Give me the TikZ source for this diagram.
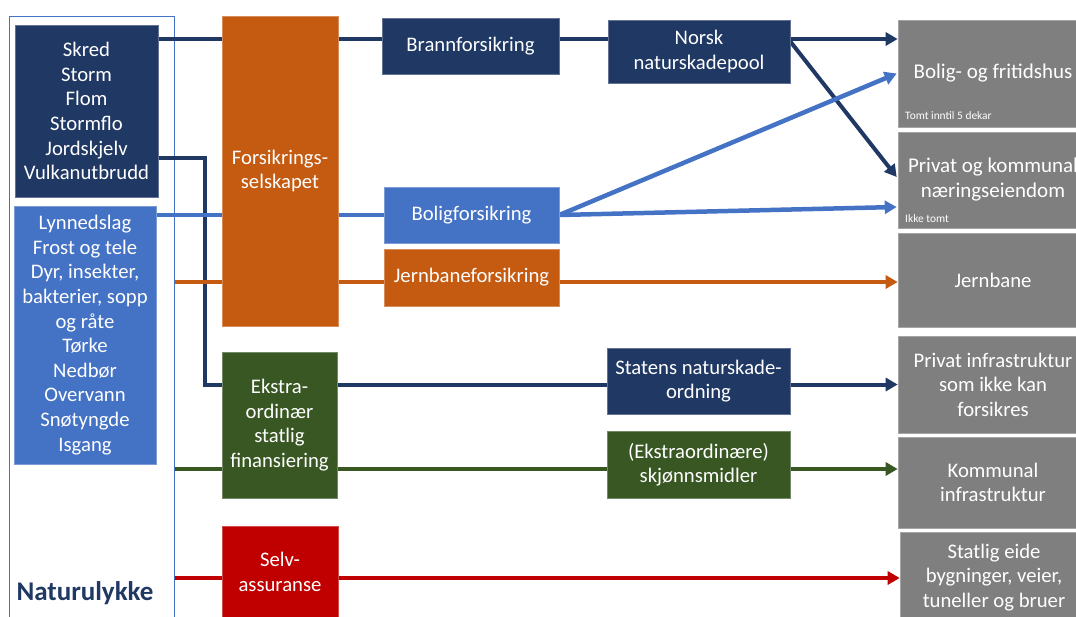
\documentclass[tikz,border=0pt]{standalone}
\usepackage{fontspec}
\setmainfont{Carlito}
\usetikzlibrary{arrows.meta,backgrounds,calc}
\definecolor{navy}{HTML}{203864}
\definecolor{lblue}{HTML}{4472C4}
\definecolor{rust}{HTML}{C55A11}
\definecolor{moss}{HTML}{385723}
\definecolor{crimson}{HTML}{C00000}
\definecolor{slate}{HTML}{7F7F7F}
\begin{document}
\begin{tikzpicture}[x=1pt,y=-1pt,
  box/.style={rectangle, inner sep=0pt, align=center, text=white,
    font=\fontsize{20.7}{24.6}\selectfont, fill=#1, draw=#1!70!white, line width=0.6pt},
  target/.style={box=slate, font=\fontsize{20.7}{24.6}\selectfont},
  smalltxt/.style={inner sep=0pt, text=white, font=\fontsize{11.4}{13}\selectfont, anchor=west},
  flow/.style={line width=4pt, draw=#1, -{Triangle[length=12pt,width=13pt]}},
  link/.style={line width=4pt, draw=#1},
]
\useasboundingbox (0,0) rectangle (1076,616);

% hazard groups
\node[box=navy, minimum width=143pt, minimum height=172pt] (haz) at (86.5,111)
  {Skred\\Storm\\Flom\\Stormflo\\Jordskjelv\\Vulkanutbrudd};
\node[box=lblue, minimum width=142pt, minimum height=258pt] (lyn) at (85,335)
  {Lynnedslag\\Frost og tele\\Dyr, insekter,\\bakterier, sopp\\og råte\\Tørke\\Nedbør\\Overvann\\Snøtyngde\\Isgang};
\node[inner sep=0pt, text=navy, font=\bfseries\fontsize{27}{32}\selectfont] (title) at (85,593) {Naturulykke};

% funding sources
\node[box=rust, minimum width=116pt, minimum height=310pt] (fors) at (280,171) {Forsikrings-\\selskapet};
\node[box=moss, minimum width=115pt, minimum height=146pt] (ekstra) at (279.5,425) {Ekstra-\\ordinær\\statlig\\finansiering};
\node[box=crimson, minimum width=116pt, minimum height=92pt] (selv) at (280,572) {Selv-\\assuranse};

% schemes
\node[box=navy, minimum width=177pt, minimum height=56pt] (brann) at (470.5,46) {Brannforsikring};
\node[box=lblue, minimum width=175pt, minimum height=56pt] (boligf) at (471.5,215) {Boligforsikring};
\node[box=rust, minimum width=175pt, minimum height=57pt] (jernf) at (471.5,277.5) {Jernbaneforsikring};
\node[box=navy, minimum width=182pt, minimum height=63pt] (norsk) at (699,51.5) {Norsk\\naturskadepool};
\node[box=navy, minimum width=183pt, minimum height=66pt] (statens) at (698.5,381) {Statens naturskade-\\ordning};
\node[box=moss, minimum width=183pt, minimum height=67pt] (skjonn) at (698.5,464.5) {(Ekstraordinære)\\skjønnsmidler};

% assets
\node[target, font=\fontsize{21}{25}\selectfont, minimum width=190pt, minimum height=107pt] (bolighus) at (993,73.5) {Bolig- og fritidshus};
\node[target, font=\fontsize{21}{25}\selectfont, minimum width=190pt, minimum height=96pt] (privkom) at (993,180) {Privat og kommunal\\næringseiendom};
\node[target, minimum width=190pt, minimum height=94pt] (jernbane) at (993,280) {Jernbane};
\node[target, minimum width=190pt, minimum height=97pt] (privinfra) at (993,384.5) {Privat infrastruktur\\som ikke kan\\forsikres};
\node[target, minimum width=190pt, minimum height=91pt] (kominfra) at (993,482.5) {Kommunal\\infrastruktur};
\node[target, minimum width=188pt, minimum height=90pt] (statlig) at (994,577.5) {Statlig eide\\bygninger, veier,\\tuneller og bruer};
\node[smalltxt] (tomt) at (905,116) {Tomt inntil 5 dekar};
\node[smalltxt] (ikketomt) at (905,219) {Ikke tomt};

% levels of the connectors
\coordinate (yTop) at (0,39);
\coordinate (jx) at (205,158);
\coordinate (yO) at (0,282);
\coordinate (yG) at (0,469);
\coordinate (yR) at (0,578);

\begin{scope}[on background layer]
  \node[draw=lblue, line width=1pt, inner sep=0pt, minimum width=165pt, minimum height=620pt] (frame) at (91.5,326) {};
  \draw[flow=navy] (haz.east |- yTop) -- (bolighus.west |- yTop);
  \draw[flow=navy] ($(norsk.east)+(0,-10)$) -- ($(privkom.west)+(-1,-3)$);
  \draw[flow=navy] (haz.east |- jx) -- (jx) |- (privinfra.west);
  \draw[link=lblue, line width=4.5pt] (lyn.east |- boligf.east) -- (boligf.east);
  \draw[flow=lblue, line width=4.5pt] (boligf.east) -- ($(privkom.west)+(-1,27)$);
  \draw[flow=lblue, line width=4.5pt] (boligf.east) -- ($(bolighus.west)+(-1,0)$);
  \draw[flow=rust] (frame.east |- yO) -- (jernbane.west |- yO);
  \draw[flow=moss] (frame.east |- yG) -- (kominfra.west |- yG);
  \draw[flow=crimson] (frame.east |- yR) -- (statlig.west |- yR);
\end{scope}
\end{tikzpicture}
\end{document}
